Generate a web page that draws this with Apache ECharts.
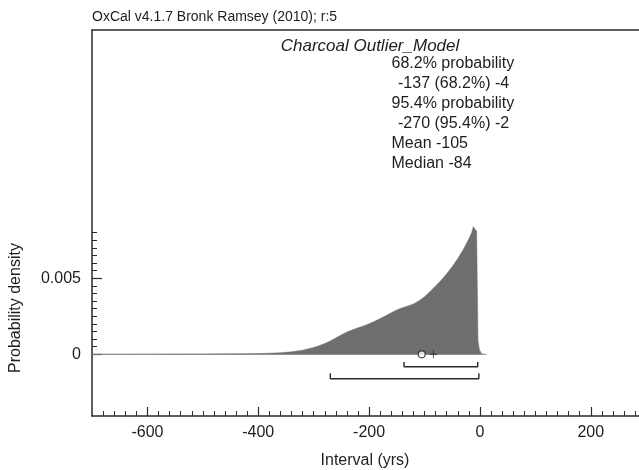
<!DOCTYPE html>
<html><head><meta charset="utf-8">
<script src="https://cdn.jsdelivr.net/npm/echarts@6/dist/echarts.min.js"></script>
<style>html,body{margin:0;padding:0;background:#fff}#c{width:639px;height:470px}</style>
</head><body><div id="c"></div>
<script>
// ---- data ----
const intervalYrs = [-700,-650,-600,-550,-500,-450,-420,-400,-380,-360,-340,-320,-300,-290,-280,-270,-260,-250,-240,-230,-220,-210,-200,-190,-180,-170,-160,-150,-140,-130,-120,-110,-100,-90,-80,-70,-60,-50,-40,-30,-20,-15,-12,-9,-6,-3.5,-1,3,6];
const density     = [0,0.000005,0.00001,0.000015,0.00002,0.00003,0.00004,0.00005,0.00007,0.0001,0.00016,0.00027,0.00045,0.00057,0.00071,0.00088,0.00108,0.00128,0.00146,0.00161,0.00174,0.00187,0.00201,0.00217,0.00235,0.00254,0.00274,0.00292,0.00306,0.00318,0.00331,0.00352,0.00378,0.00413,0.0045,0.00487,0.0053,0.00577,0.0063,0.0069,0.0076,0.008,0.0084,0.00832,0.0081,0.0009,0.0003,0.00003,0];
const baselineRange = [-700, 12];
const range68 = [-137, -4];
const range95 = [-270, -2];
const meanVal = -105;
const medianVal = -84;
const xMajorTicks = [-600,-400,-200,0,200];
const xMinorTicks = [-680,-660,-640,-620,-600,-580,-560,-540,-520,-500,-480,-460,-440,-420,-400,-380,-360,-340,-320,-300,-280,-260,-240,-220,-200,-180,-160,-140,-120,-100,-80,-60,-40,-20,0,20,40,60,80,100,120,140,160,180,200,220,240,260,280];
const yMajorTicks = [0, 0.005];
const yMajorLabels = ['0', '0.005'];
const yMinorTicks = [0,0.0005,0.001,0.0015,0.002,0.0025,0.003,0.0035,0.004,0.0045,0.005,0.0055,0.006,0.0065,0.007,0.0075,0.008];
const headerText = 'OxCal v4.1.7 Bronk Ramsey (2010); r:5';
const titleText = 'Charcoal Outlier_Model';
const statsLines = ['68.2% probability', '-137 (68.2%) -4', '95.4% probability', '-270 (95.4%) -2', 'Mean -105', 'Median -84'];
const statsIndented = [false, true, false, true, false, false];
const xName = 'Interval (yrs)';
const yName = 'Probability density';

// ---- chart ----
const FONT = '"Liberation Sans", Arial, Helvetica, sans-serif';
const INK = '#1e1e1e';
const AXIS = '#2a2a2a';
const X_MIN = -700, X_MAX = 287;
const Y_MIN = -0.00406, Y_MAX = 0.02134;

const chart = echarts.init(document.getElementById('c'), null, {renderer: 'canvas'});
const pairs = (xs, ys) => xs.map((x, i) => [x, ys[i]]);
function bracket(r, lvl, top) { return [[r[0], top], [r[0], lvl], [r[1], lvl], [r[1], top]]; }

const statsGraphics = statsLines.map((t, i) => ({
  type: 'text', left: statsIndented[i] ? 398 : 391.5, top: 65 + 20 * i - 9,
  style: {text: t, font: '16px ' + FONT, fill: INK}
}));

const option = {
  animation: false,
  backgroundColor: '#fff',
  grid: {left: 92, right: 0, top: 30, bottom: 54, containLabel: false},
  xAxis: [
    {type: 'value', min: X_MIN, max: X_MAX, position: 'bottom',
     axisLine: {show: true, onZero: false, lineStyle: {color: AXIS, width: 1.5}},
     axisTick: {show: true, inside: true, length: 9, customValues: xMajorTicks, lineStyle: {color: AXIS, width: 1.2}},
     axisLabel: {show: true, customValues: xMajorTicks, margin: 9, fontSize: 16, fontFamily: FONT, color: INK},
     splitLine: {show: false}},
    {type: 'value', min: X_MIN, max: X_MAX, position: 'bottom',
     axisLine: {show: false, onZero: false},
     axisTick: {show: true, inside: true, length: 5, customValues: xMinorTicks, lineStyle: {color: AXIS, width: 1}},
     axisLabel: {show: false}, splitLine: {show: false}},
    {type: 'value', min: X_MIN, max: X_MAX, position: 'top',
     axisLine: {show: true, onZero: false, lineStyle: {color: AXIS, width: 1.5}},
     axisTick: {show: false}, axisLabel: {show: false}, splitLine: {show: false}}
  ],
  yAxis: [
    {type: 'value', min: Y_MIN, max: Y_MAX, position: 'left',
     axisLine: {show: true, onZero: false, lineStyle: {color: AXIS, width: 1.5}},
     axisTick: {show: true, inside: true, length: 10, customValues: yMajorTicks, lineStyle: {color: AXIS, width: 1.2}},
     axisLabel: {show: true, customValues: yMajorTicks, margin: 11, fontSize: 16, fontFamily: FONT, color: INK,
                 formatter: v => yMajorLabels[yMajorTicks.findIndex(t => Math.abs(t - v) < 1e-9)] ?? ''},
     splitLine: {show: false}},
    {type: 'value', min: Y_MIN, max: Y_MAX, position: 'left',
     axisLine: {show: false, onZero: false},
     axisTick: {show: true, inside: true, length: 5, customValues: yMinorTicks, lineStyle: {color: AXIS, width: 1}},
     axisLabel: {show: false}, splitLine: {show: false}}
  ],
  series: [
    {type: 'line', name: 'baseline', xAxisIndex: 0, yAxisIndex: 0, z: 1,
     data: [[baselineRange[0], 0], [baselineRange[1], 0]], symbol: 'none',
     lineStyle: {color: '#8a8a8a', width: 1}, silent: true},
    {type: 'line', name: 'density', xAxisIndex: 0, yAxisIndex: 0, z: 2,
     data: pairs(intervalYrs, density), symbol: 'none', smooth: false,
     lineStyle: {width: 0.5, color: '#6e6e6e'}, areaStyle: {color: '#6e6e6e', opacity: 1}, silent: true},
    {type: 'line', name: '68.2%', z: 3, data: bracket(range68, -0.000816, -0.000507), symbol: 'none',
     lineStyle: {color: AXIS, width: 1.4}, silent: true},
    {type: 'line', name: '95.4%', z: 3, data: bracket(range95, -0.001605, -0.00125), symbol: 'none',
     lineStyle: {color: AXIS, width: 1.4}, silent: true},
    {type: 'scatter', name: 'mean', z: 5, data: [[meanVal, 0]], symbol: 'circle', symbolSize: 7,
     itemStyle: {color: '#fff', borderColor: '#1e1e1e', borderWidth: 1.2}, silent: true},
    {type: 'scatter', name: 'median', z: 5, data: [[medianVal, 0]],
     symbol: 'path://M-0.11,-1H0.11V-0.11H1V0.11H0.11V1H-0.11V0.11H-1V-0.11H-0.11Z', symbolSize: 8,
     itemStyle: {color: '#1e1e1e'}, silent: true}
  ],
  graphic: [
    {type: 'text', left: 92, top: 10, style: {text: headerText, font: '14px ' + FONT, fill: INK}},
    {type: 'text', x: 370, y: 46, style: {text: titleText, font: 'italic 17px ' + FONT, fill: INK, align: 'center', verticalAlign: 'middle'}},
    ...statsGraphics,
    {type: 'text', x: 365, y: 461, style: {text: xName, font: '16px ' + FONT, fill: INK, align: 'center', verticalAlign: 'middle'}},
    {type: 'text', x: 16, y: 308, rotation: Math.PI / 2, style: {text: yName, font: '16px ' + FONT, fill: INK, align: 'center', verticalAlign: 'middle'}}
  ]
};
chart.setOption(option);
</script>
</body></html>
